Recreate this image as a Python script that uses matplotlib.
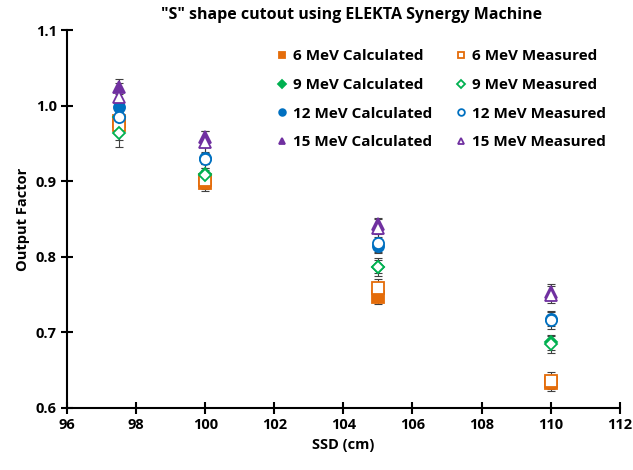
import numpy as np
import matplotlib.pyplot as plt

plt.rcParams['font.family'] = ['Open Sans', 'DejaVu Sans']
plt.rcParams['font.weight'] = 'bold'

ssd = [97.5, 100, 105, 110]

calc_6 = [0.980, 0.898, 0.747, 0.633]
meas_6 = [0.974, 0.902, 0.759, 0.636]
calc_9 = [0.985, 0.910, 0.787, 0.687]
meas_9 = [0.964, 0.908, 0.786, 0.684]
calc_12 = [0.998, 0.931, 0.814, 0.718]
meas_12 = [0.985, 0.930, 0.818, 0.716]
calc_15 = [1.025, 0.958, 0.843, 0.754]
meas_15 = [1.011, 0.952, 0.838, 0.750]

err_calc = [0.010, 0.008, 0.009, 0.010]
err_meas = [0.019, 0.015, 0.012, 0.011]

orange = '#E46C0A'
green = '#00B050'
blue = '#0070C0'
purple = '#7030A0'

series = [
    ("6 MeV Calculated", calc_6, err_calc, 's', orange, True),
    ("6 MeV Measured", meas_6, err_meas, 's', orange, False),
    ("9 MeV Calculated", calc_9, err_calc, 'D', green, True),
    ("9 MeV Measured", meas_9, err_meas, 'D', green, False),
    ("12 MeV Calculated", calc_12, err_calc, 'o', blue, True),
    ("12 MeV Measured", meas_12, err_meas, 'o', blue, False),
    ("15 MeV Calculated", calc_15, err_calc, '^', purple, True),
    ("15 MeV Measured", meas_15, err_meas, '^', purple, False),
]

fig = plt.figure(figsize=(6.33, 4.7), dpi=100)
ax = fig.add_axes([0.106, 0.132, 0.873, 0.804])

for label, vals, err, mk, col, filled in series:
    ax.errorbar(ssd, vals, yerr=err, fmt='none', ecolor='#404040',
                elinewidth=0.8, capsize=3, capthick=0.8, zorder=1)
    ms = 8 if mk != 'D' else 6.5
    ax.plot(ssd, vals, linestyle='none', marker=mk, markersize=ms,
            color=col, markerfacecolor=col if filled else 'white',
            markeredgewidth=1.3, label=label, zorder=3)

ax.set_xlim(96, 112)
ax.set_ylim(0.6, 1.1)
ax.set_xticks(np.arange(96, 113, 2))
ax.set_yticks(np.arange(0.6, 1.11, 0.1))
ax.set_yticklabels(['0.6', '0.7', '0.8', '0.9', '1.0', '1.1'])
ax.spines['top'].set_visible(False)
ax.spines['right'].set_visible(False)
ax.spines['left'].set_linewidth(1.5)
ax.spines['bottom'].set_linewidth(1.5)
ax.tick_params(direction='inout', length=8, width=1.5, labelsize=10.5)
for t in ax.get_xticklabels() + ax.get_yticklabels():
    t.set_fontweight('bold')

ax.set_xlabel('SSD (cm)', fontsize=10.5, fontweight='bold')
ax.set_ylabel('Output Factor', fontsize=10.5, fontweight='bold')
fig.suptitle('"S" shape cutout using ELEKTA Synergy Machine', x=0.555, y=0.985,
             fontsize=11.5, fontweight='bold')

handles, labels = ax.get_legend_handles_labels()
order = [0, 2, 4, 6, 1, 3, 5, 7]
leg = ax.legend([handles[i] for i in order], [labels[i] for i in order],
                ncol=2, loc='upper right', bbox_to_anchor=(1.0, 0.985),
                frameon=False, fontsize=11, handletextpad=0.2,
                columnspacing=1.4, labelspacing=0.95, markerscale=0.6,
                handlelength=1.0)
for t in leg.get_texts():
    t.set_fontweight('bold')

fig.savefig('out.png', dpi=100)
